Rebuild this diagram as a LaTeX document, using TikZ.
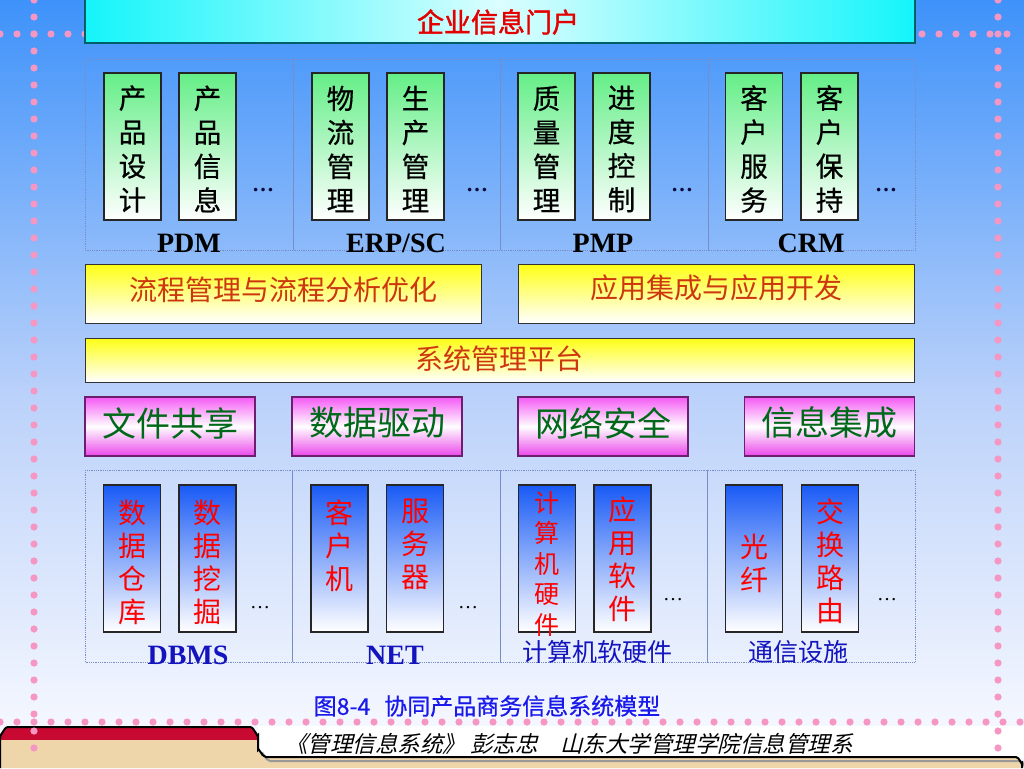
\documentclass[tikz,border=0pt]{standalone}
\usepackage{fontspec}
\setmainfont{Liberation Serif}
\newfontfamily\cjk{Noto Sans CJK SC}
\newfontfamily\cjkbold[FakeBold=1.5]{Noto Sans CJK SC}
\newfontfamily\cjkmed[FakeBold=0.6]{Noto Sans CJK SC}
\newfontfamily\cjkit[FakeSlant=0.25]{Noto Sans CJK SC}
\definecolor{bgA}{RGB}{62,146,250}
\definecolor{bgB}{RGB}{188,210,250}
\definecolor{bgC}{RGB}{252,252,255}
\definecolor{dotpink}{RGB}{245,150,195}
\definecolor{gtop}{RGB}{100,238,135}
\definecolor{btop}{RGB}{25,90,245}
\definecolor{ytop}{RGB}{255,255,20}
\definecolor{mtop}{RGB}{245,90,245}
\definecolor{mbot}{RGB}{235,70,235}
\definecolor{mborder}{RGB}{110,30,110}
\definecolor{cyanbar}{RGB}{20,245,250}
\definecolor{cyanborder}{RGB}{0,95,105}
\definecolor{grpline}{RGB}{120,140,200}
\definecolor{yred}{RGB}{205,55,15}
\definecolor{mgreen}{RGB}{0,105,25}
\definecolor{lblue}{RGB}{20,20,190}
\definecolor{capblue}{RGB}{25,25,235}
\definecolor{navy}{RGB}{10,10,60}
\definecolor{tabred}{RGB}{200,10,50}
\definecolor{tan}{RGB}{238,214,170}
\begin{document}
\begin{tikzpicture}[x=1pt,y=-1pt,
  greenbox/.style={draw=black!85, line width=1.1pt, top color=gtop, bottom color=white, minimum width=57pt, minimum height=147pt, inner sep=0pt},
  bluebox/.style={draw=black!85, line width=1.1pt, top color=btop, bottom color=white, minimum width=57pt, minimum height=147pt, inner sep=0pt},
  ybar/.style={draw=black!80, line width=1pt, top color=ytop, bottom color=white, inner sep=0pt},
  mbox/.style={draw=mborder, line width=1.4pt, top color=mtop, bottom color=mbot, middle color=white, minimum width=170pt, minimum height=59pt, inner sep=0pt},
  gtext/.style={font={\cjkmed\fontsize{27.5pt}{34pt}\selectfont}, align=center, inner sep=0pt, text=black},
  rtext/.style={font={\cjk\fontsize{28pt}{33pt}\selectfont}, align=center, inner sep=0pt, text=red},
  rtextsmall/.style={font={\cjk\fontsize{25pt}{30.5pt}\selectfont}, align=center, inner sep=0pt, text=red},
  ytext/.style={font={\cjk\fontsize{28pt}{30pt}\selectfont}, inner sep=0pt, text=yred},
  mtext/.style={font={\cjk\fontsize{34pt}{36pt}\selectfont}, inner sep=0pt, text=mgreen},
  toplabel/.style={font={\bfseries\fontsize{28pt}{30pt}\selectfont}, inner sep=0pt, text=black},
  botlabel/.style={font={\bfseries\fontsize{28pt}{30pt}\selectfont}, inner sep=0pt, text=lblue},
  botcjk/.style={font={\cjk\fontsize{25pt}{27pt}\selectfont}, inner sep=0pt, text=lblue},
  updots/.style={font={\bfseries\fontsize{22pt}{24pt}\selectfont}, inner sep=0pt, text=navy},
  lowdots/.style={font={\fontsize{20pt}{22pt}\selectfont}, inner sep=0pt, text=black},
  grp/.style={draw=grpline, line width=0.8pt, densely dotted},
  divider/.style={draw=grpline, line width=0.6pt},
  pinkdot/.style={fill=dotpink}
]
\useasboundingbox (0,0) rectangle (1024,768);
% background
\shade[top color=bgA, bottom color=bgB] (0,0) rectangle (1024,400);
\shade[top color=bgB, bottom color=bgC] (0,400) rectangle (1024,768);
% bottom banner
\fill[white] (258,726) rectangle (1024,758);
\path[fill=tan] (0,768) -- (0,735) to[out=-90,in=180] (8,727) -- (250,727) to[out=0,in=-90] (258,735) -- (258,750) to[out=90,in=180] (266,757) -- (1016,757) to[out=0,in=-90] (1022,763) -- (1022,768) -- cycle;
\begin{scope}
  \clip (0,768) -- (0,735) to[out=-90,in=180] (8,727) -- (250,727) to[out=0,in=-90] (258,735) -- (258,768) -- cycle;
  \fill[tabred] (0,720) rectangle (260,740);
\end{scope}
\draw[black!40, line width=2pt] (262,752) -- (262,754) to[out=90,in=180] (270,761) -- (1020,761) to[out=0,in=-90] (1026,767);
\draw[black, line width=2pt] (0,768) -- (0,735) to[out=-90,in=180] (8,727) -- (250,727) to[out=0,in=-90] (258,735) -- (258,750) to[out=90,in=180] (266,757) -- (1016,757) to[out=0,in=-90] (1022,763) -- (1022,768);
\node[font={\cjkit\fontsize{22.5pt}{24pt}\selectfont}, inner sep=0pt, text=black] (footer) at (569,744) {《管理信息系统》 彭志忠\quad 山东大学管理学院信息管理系};
% pink dotted lines
\foreach \x in {0,17,...,85} \fill[pinkdot] (\x,34) circle[radius=3.6pt];
\foreach \x in {922,939,...,1007} \fill[pinkdot] (\x,34) circle[radius=3.6pt];
\foreach \y in {0,17,...,750} {\fill[pinkdot] (34,\y) circle[radius=3.6pt]; \fill[pinkdot] (998,\y) circle[radius=3.6pt];}
\foreach \x in {0,17,...,1020} \fill[pinkdot] (\x,722) circle[radius=3.6pt];
% top bar
\node[draw=cyanborder, line width=1.5pt, left color=cyanbar, right color=cyanbar, middle color=white!85!cyanbar, minimum width=830pt, minimum height=44pt, inner sep=0pt] (portal) at (500,21) {};
\node[font={\cjkbold\fontsize{27pt}{29pt}\selectfont}, text=red!90!black, inner sep=0pt] (portalt) at (498,22) {企业信息门户};
% upper group
\draw[grp] (85,59) rectangle (915,250);
\foreach \x in {293,500,708} \draw[divider] (\x,59) -- (\x,250);
\node[greenbox] (g1) at (132.5,146.5) {};
\node[greenbox] (g2) at (207.5,146.5) {};
\node[greenbox] (g3) at (340.5,146.5) {};
\node[greenbox] (g4) at (415.5,146.5) {};
\node[greenbox] (g5) at (546.5,146.5) {};
\node[greenbox] (g6) at (621.5,146.5) {};
\node[greenbox] (g7) at (754,146.5) {};
\node[greenbox] (g8) at (829.5,146.5) {};
\node[gtext] (g1t) at (132.5,149) {产\\品\\设\\计};
\node[gtext] (g2t) at (207.5,149) {产\\品\\信\\息};
\node[gtext] (g3t) at (340.5,149) {物\\流\\管\\理};
\node[gtext] (g4t) at (415.5,149) {生\\产\\管\\理};
\node[gtext] (g5t) at (546.5,149) {质\\量\\管\\理};
\node[gtext] (g6t) at (621.5,149) {进\\度\\控\\制};
\node[gtext] (g7t) at (754,149) {客\\户\\服\\务};
\node[gtext] (g8t) at (829.5,149) {客\\户\\保\\持};
\node[updots] (d1) at (263,190) {…};
\node[updots] (d2) at (477,190) {…};
\node[updots] (d3) at (682,190) {…};
\node[updots] (d4) at (886,190) {…};
\node[toplabel] (pdm) at (189,243) {PDM};
\node[toplabel] (erp) at (396,243) {ERP/SC};
\node[toplabel] (pmp) at (603,243) {PMP};
\node[toplabel] (crm) at (811,243) {CRM};
% yellow bars
\node[ybar, minimum width=396pt, minimum height=59pt] (flow) at (283,293.5) {};
\node[ytext] (flowt) at (283,290) {流程管理与流程分析优化};
\node[ybar, minimum width=396pt, minimum height=59pt] (app) at (716,293.5) {};
\node[ytext] (appt) at (716,288) {应用集成与应用开发};
\node[ybar, minimum width=829pt, minimum height=44pt] (sys) at (499.5,360) {};
\node[ytext] (syst) at (499,359) {系统管理平台};
% magenta boxes
\node[mbox] (m1) at (170,426.5) {};
\node[mbox] (m2) at (377,426.5) {};
\node[mbox] (m3) at (603,426.5) {};
\node[mbox] (m4) at (829.5,426.5) {};
\node[mtext] (m1t) at (170,423) {文件共享};
\node[mtext] (m2t) at (377,423) {数据驱动};
\node[mtext] (m3t) at (603,423) {网络安全};
\node[mtext] (m4t) at (829.5,423) {信息集成};
% lower group
\draw[grp] (85,470) rectangle (915,662);
\foreach \x in {292,500,707} \draw[divider] (\x,470) -- (\x,662);
\node[bluebox] (b1) at (132,558.5) {};
\node[bluebox] (b2) at (207.5,558.5) {};
\node[bluebox] (b3) at (339.5,558.5) {};
\node[bluebox] (b4) at (415,558.5) {};
\node[bluebox] (b5) at (547,558.5) {};
\node[bluebox] (b6) at (622.5,558.5) {};
\node[bluebox] (b7) at (754,558.5) {};
\node[bluebox] (b8) at (830,558.5) {};
\node[rtext] (b1t) at (132,562.5) {数\\据\\仓\\库};
\node[rtext] (b2t) at (207.5,562.5) {数\\据\\挖\\掘};
\node[rtext] (b3t) at (339.5,545.5) {客\\户\\机};
\node[rtext] (b4t) at (415,544) {服\\务\\器};
\node[rtextsmall] (b5t) at (547,564) {计\\算\\机\\硬\\件};
\node[rtext] (b6t) at (622.5,559) {应\\用\\软\\件};
\node[rtext] (b7t) at (754,563) {光\\纤};
\node[rtext] (b8t) at (830,561) {交\\换\\路\\由};
\node[lowdots] (e1) at (260,608) {…};
\node[lowdots] (e2) at (468,608) {…};
\node[lowdots] (e3) at (673,600) {…};
\node[lowdots] (e4) at (887,600) {…};
\node[botlabel] (dbms) at (188,655) {DBMS};
\node[botlabel] (net) at (395,655) {NET};
\node[botcjk] (hw) at (597,652) {计算机软硬件};
\node[botcjk] (comm) at (798,652) {通信设施};
% caption
\node[font={\cjkmed\fontsize{23pt}{25pt}\selectfont}, text=capblue, inner sep=0pt] (caption) at (487,706) {图8-4\hspace{14pt}协同产品商务信息系统模型};
\end{tikzpicture}
\end{document}
